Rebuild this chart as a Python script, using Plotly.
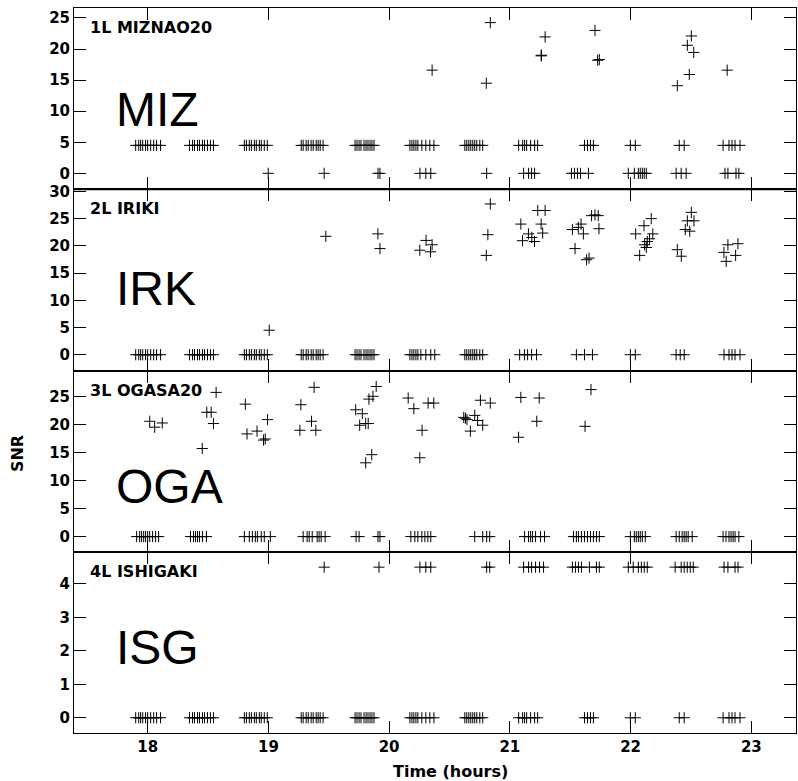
import plotly.graph_objects as go
from plotly.subplots import make_subplots

# ---------------- data (time in hours, SNR) ----------------
# 1L MIZNAO20
miz_peak_t = [20.356, 20.805, 20.838, 21.259, 21.262, 21.292, 21.705, 21.727, 21.741,
              22.387, 22.470, 22.486, 22.503, 22.523, 22.800]
miz_peak_snr = [16.6, 14.5, 24.25, 18.9, 19.0, 21.95, 23.0, 18.2, 18.3,
                14.1, 20.6, 15.9, 22.1, 19.45, 16.6]
miz_low_t = [17.901, 17.926, 17.942, 17.959, 17.983, 18.000, 18.025, 18.050, 18.074, 18.107,
             18.347, 18.372, 18.388, 18.413, 18.429, 18.454, 18.471, 18.496, 18.520, 18.545,
             18.801, 18.818, 18.842, 18.859, 18.884, 18.900, 18.925, 18.941, 18.966, 18.991,
             19.272, 19.288, 19.313, 19.330, 19.354, 19.371, 19.396, 19.412, 19.429, 19.453,
             19.718, 19.734, 19.751, 19.767, 19.792, 19.809, 19.825, 19.842, 19.858, 19.875,
             20.172, 20.189, 20.205, 20.222, 20.238, 20.271, 20.304, 20.337, 20.371,
             20.627, 20.643, 20.660, 20.676, 20.693, 20.709, 20.726, 20.751, 20.775,
             21.073, 21.106, 21.122, 21.139, 21.172, 21.205, 21.230,
             21.618, 21.643, 21.668, 21.692,
             21.998, 22.039,
             22.403, 22.444,
             22.766, 22.815, 22.840, 22.865, 22.906]
miz_low_snr = 4.5
miz_zero_t = [18.999, 19.462, 19.908, 19.924,
              20.255, 20.304, 20.345, 20.808,
              21.114, 21.155, 21.180, 21.205,
              21.510, 21.535, 21.560, 21.585, 21.651,
              21.981, 22.031, 22.064, 22.080, 22.097, 22.113, 22.130,
              22.377, 22.419, 22.460,
              22.782, 22.806, 22.873, 22.897]

# 2L IRIKI
irk_peak_t = [19.007, 19.476, 19.907, 19.924,
              20.254, 20.306, 20.343, 20.356,
              20.805, 20.818, 20.838,
              21.091, 21.105, 21.154, 21.182, 21.204, 21.231, 21.259, 21.272, 21.292,
              21.518, 21.540, 21.567, 21.590, 21.609, 21.636, 21.656, 21.677, 21.705, 21.732, 21.738,
              22.042, 22.075, 22.111, 22.116, 22.130, 22.138, 22.157, 22.171, 22.184,
              22.387, 22.420, 22.453, 22.470, 22.490, 22.503, 22.525,
              22.773, 22.792, 22.806, 22.870, 22.889]
irk_peak_snr = [4.5, 21.75, 22.2, 19.5,
                19.2, 21.0, 18.9, 20.2,
                18.25, 22.05, 27.7,
                24.0, 20.95, 22.2, 21.55, 20.8, 26.5, 24.0, 22.35, 26.5,
                23.0, 19.5, 23.4, 24.0, 22.2, 17.45, 17.75, 25.55, 25.7, 25.55, 23.15,
                22.2, 18.25, 23.7, 20.2, 19.7, 20.8, 21.3, 25.0, 22.2,
                19.3, 18.1, 23.0, 24.6, 22.7, 26.15, 24.6,
                18.8, 17.15, 20.2, 18.25, 20.4]
irk_zero_t = [17.901, 17.926, 17.942, 17.959, 17.983, 18.000, 18.025, 18.050, 18.074, 18.107,
              18.347, 18.372, 18.388, 18.413, 18.429, 18.454, 18.471, 18.496, 18.520, 18.545,
              18.801, 18.818, 18.842, 18.859, 18.884, 18.900, 18.925, 18.941, 18.966, 18.991,
              19.272, 19.288, 19.313, 19.330, 19.354, 19.371, 19.396, 19.412, 19.429, 19.453,
              19.718, 19.734, 19.751, 19.767, 19.792, 19.809, 19.825, 19.842, 19.858, 19.875,
              20.172, 20.189, 20.205, 20.222, 20.238, 20.263, 20.304, 20.345, 20.378,
              20.627, 20.643, 20.660, 20.676, 20.693, 20.709, 20.726, 20.751, 20.775,
              21.081, 21.122, 21.147, 21.180, 21.221,
              21.551, 21.618, 21.684,
              21.998, 22.039,
              22.377, 22.411, 22.444,
              22.774, 22.815, 22.840, 22.865, 22.906]

# 3L OGASA20
oga_peak_t = [18.017, 18.058, 18.121,
              18.452, 18.490, 18.526, 18.545, 18.567,
              18.809, 18.823, 18.906, 18.960, 18.974, 18.993,
              19.261, 19.269, 19.357, 19.379, 19.393,
              19.723, 19.756, 19.778, 19.806, 19.827, 19.806, 19.833, 19.856, 19.866, 19.893,
              20.158, 20.205, 20.254, 20.273, 20.323, 20.370,
              20.618, 20.632, 20.645, 20.673, 20.709, 20.733, 20.756, 20.775, 20.838,
              21.072, 21.091, 21.223, 21.243,
              21.623, 21.672]
oga_peak_snr = [20.55, 19.5, 20.25,
                15.7, 22.15, 22.15, 20.15, 25.7,
                23.6, 18.3, 18.8, 17.2, 17.4, 20.85,
                18.95, 23.5, 20.55, 26.6, 18.95,
                22.6, 19.85, 21.9, 20.15, 20.15, 13.15, 24.5, 14.6, 25.0, 26.75,
                24.7, 22.8, 14.05, 18.95, 23.8, 23.8,
                21.25, 21.1, 20.85, 18.8, 21.6, 20.7, 24.3, 19.85, 23.8,
                17.7, 24.8, 20.55, 24.7,
                19.65, 26.2]
oga_zero_t = [17.909, 17.934, 17.950, 17.967, 17.983, 18.000, 18.017, 18.041, 18.066, 18.091,
              18.355, 18.380, 18.396, 18.413, 18.429, 18.454, 18.487,
              18.801, 18.842, 18.867, 18.892, 18.909, 18.941, 18.966, 19.016,
              19.288, 19.321, 19.338, 19.363, 19.404, 19.420, 19.437, 19.470,
              19.726, 19.751, 19.908, 19.924,
              20.180, 20.213, 20.238, 20.271, 20.296, 20.321, 20.345,
              20.709, 20.775, 20.808, 20.833,
              21.122, 21.155, 21.172, 21.188, 21.213, 21.254, 21.287,
              21.527, 21.551, 21.568, 21.593, 21.618, 21.643, 21.668, 21.692, 21.717, 21.741,
              21.998, 22.031, 22.047, 22.064, 22.080, 22.097, 22.122,
              22.377, 22.403, 22.427, 22.444, 22.460, 22.477, 22.510,
              22.766, 22.790, 22.815, 22.832, 22.849, 22.865, 22.897]

# 4L ISHIGAKI
isg_high_t = [19.462, 19.916,
              20.255, 20.304, 20.345, 20.808, 20.833,
              21.114, 21.155, 21.180, 21.213, 21.246, 21.279,
              21.518, 21.543, 21.568, 21.593, 21.659, 21.717, 21.741,
              21.981, 22.022, 22.064, 22.089, 22.113, 22.138,
              22.369, 22.419, 22.444, 22.469, 22.494, 22.519,
              22.774, 22.806, 22.865, 22.890]
isg_high_snr = 4.5
isg_zero_t = miz_low_t[:]

stations = ["1L MIZNAO20", "2L IRIKI", "3L OGASA20", "4L ISHIGAKI"]
codes = ["MIZ", "IRK", "OGA", "ISG"]
y_ranges = [[-2.56, 26.6], [-2.9, 30.4], [-2.7, 29.6], [-0.455, 4.96]]
y_ticks = [[0, 5, 10, 15, 20, 25], [0, 5, 10, 15, 20, 25, 30],
           [0, 5, 10, 15, 20, 25], [0, 1, 2, 3, 4]]
x_ticks = [18, 19, 20, 21, 22, 23]
x_range = [17.39, 23.37]

series = [
    (miz_peak_t + miz_low_t + miz_zero_t,
     miz_peak_snr + [miz_low_snr] * len(miz_low_t) + [0] * len(miz_zero_t)),
    (irk_peak_t + irk_zero_t,
     irk_peak_snr + [0] * len(irk_zero_t)),
    (oga_peak_t + oga_zero_t,
     oga_peak_snr + [0] * len(oga_zero_t)),
    (isg_high_t + isg_zero_t,
     [isg_high_snr] * len(isg_high_t) + [0] * len(isg_zero_t)),
]

# ---------------- figure ----------------
fig = make_subplots(rows=4, cols=1, shared_xaxes=True, vertical_spacing=0)

for i, (t, s) in enumerate(series):
    fig.add_trace(go.Scatter(
        x=t, y=s, mode="markers",
        marker=dict(symbol="cross-thin", size=8, color="black",
                    line=dict(color="black", width=1)),
        showlegend=False, hoverinfo="x+y"), row=i + 1, col=1)

tick_font = dict(family="DejaVu Sans", size=15, color="black", weight="bold")

for i in range(4):
    fig.update_yaxes(row=i + 1, col=1, range=y_ranges[i], tickvals=y_ticks[i],
                     ticks="inside", ticklen=12, tickwidth=1, tickcolor="black",
                     showline=True, linecolor="black", linewidth=1,
                     mirror="allticks", showgrid=False, zeroline=False,
                     tickfont=tick_font)
    fig.update_xaxes(row=i + 1, col=1, range=x_range, tickvals=x_ticks,
                     ticks="inside", ticklen=12, tickwidth=1, tickcolor="black",
                     showline=True, linecolor="black", linewidth=1,
                     mirror="allticks", showgrid=False, zeroline=False,
                     tickfont=tick_font)

    yref = "y domain" if i == 0 else f"y{i + 1} domain"
    xref = "x domain" if i == 0 else f"x{i + 1} domain"
    fig.add_annotation(text=stations[i], xref=xref, yref=yref, x=0.019, y=1,
                       xanchor="left", yanchor="top", yshift=-8, showarrow=False,
                       font=dict(family="DejaVu Sans", size=16, color="black", weight="bold"))

big_y = [0.442, 0.45, 0.359, 0.47]
for i in range(4):
    yref = "y domain" if i == 0 else f"y{i + 1} domain"
    xref = "x domain" if i == 0 else f"x{i + 1} domain"
    fig.add_annotation(text=codes[i], xref=xref, yref=yref, x=0.055, y=big_y[i],
                       xanchor="left", yanchor="middle", showarrow=False,
                       font=dict(family="Liberation Sans", size=48, color="black"))

fig.add_annotation(text="SNR", xref="paper", yref="paper", x=-0.0773, y=0.385,
                   xanchor="center", yanchor="middle", textangle=-90, showarrow=False,
                   font=dict(family="DejaVu Sans", size=16, color="black", weight="bold"))
fig.add_annotation(text="Time (hours)", xref="paper", yref="paper", x=0.522, y=0,
                   xanchor="center", yanchor="middle", yshift=-38, showarrow=False,
                   font=dict(family="DejaVu Sans", size=16, color="black", weight="bold"))

fig.add_shape(type="line", xref="paper", yref="paper", x0=0, x1=1, y0=0.75, y1=0.75,
              line=dict(color="black", width=2))

fig.update_layout(width=798, height=781,
                  margin=dict(l=74, r=1, t=6, b=48),
                  paper_bgcolor="white", plot_bgcolor="white")

fig.write_html("out.html")
